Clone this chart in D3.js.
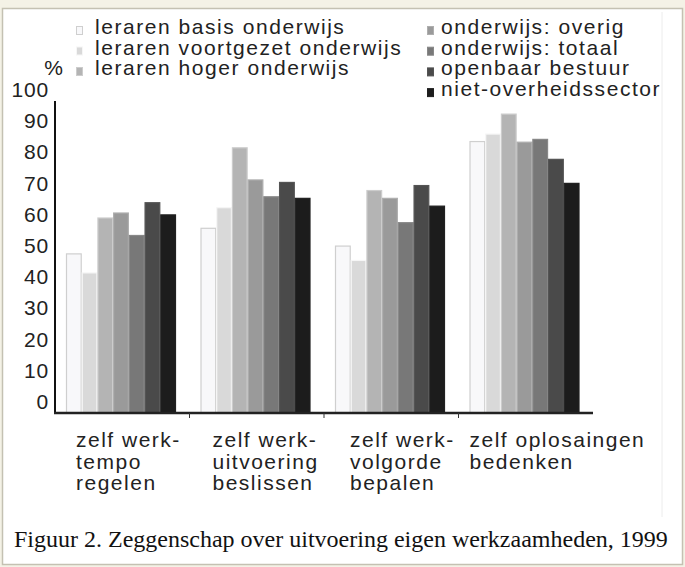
<!DOCTYPE html>
<html>
<head>
<meta charset="utf-8">
<script src="https://cdn.jsdelivr.net/npm/d3@7"></script>
<style>
  body { margin: 0; background: #f4f2e6; }
  svg { display: block; }
</style>
</head>
<body>
<svg id="chart" width="685" height="567"></svg>
<script>
// categories (x axis), each split into its printed lines
const categories = [
  ["zelf werk-", "tempo", "regelen"],
  ["zelf werk-", "uitvoering", "beslissen"],
  ["zelf werk-", "volgorde", "bepalen"],
  ["zelf oplosaingen", "bedenken"]
];

// series names (legend order)
const series = [
  "leraren basis onderwijs",
  "leraren voortgezet onderwijs",
  "leraren hoger onderwijs",
  "onderwijs: overig",
  "onderwijs: totaal",
  "openbaar bestuur",
  "niet-overheidssector"
];

// percentages per series, one value per category
const lerarenBasis     = [51.0, 59.2, 53.5, 87.0];
const lerarenVoortgez  = [44.9, 65.8, 48.9, 89.4];
const lerarenHoger     = [62.5, 85.0, 71.3, 95.8];
const onderwijsOverig  = [64.1, 74.7, 68.8, 86.8];
const onderwijsTotaal  = [56.9, 69.3, 61.0, 87.7];
const openbaarBestuur  = [67.4, 73.9, 72.9, 81.3];
const nietOverheid     = [63.5, 68.8, 66.3, 73.6];

const yTicks = [0, 10, 20, 30, 40, 50, 60, 70, 80, 90, 100];

// grey shades, light to dark
const colors = ["#f8f8fa", "#d9d9d9", "#b4b4b4", "#9a9a9a", "#787878", "#4a4a4a", "#1c1c1c"];

const values = [lerarenBasis, lerarenVoortgez, lerarenHoger, onderwijsOverig,
                onderwijsTotaal, openbaarBestuur, nietOverheid];

const svg = d3.select("#chart");
const font = "'Liberation Sans', Arial, sans-serif";

// frame around the figure
svg.append("rect")
  .attr("x", 2.5).attr("y", 8.5)
  .attr("width", 680).attr("height", 556)
  .attr("fill", "#ffffff")
  .attr("stroke", "#c4c1b2")
  .attr("stroke-width", 1.5);

// right edge of the chart picture
svg.append("line")
  .attr("x1", 662).attr("x2", 662)
  .attr("y1", 12).attr("y2", 517)
  .attr("stroke", "#ececec");

// scales
const x0 = d3.scaleBand().domain(d3.range(categories.length)).range([55, 593]);
const x1 = d3.scaleBand().domain(series).range([11, 121]);
const y = d3.scaleLinear().domain([0, 100]).range([413, 101]);

// bars
const groups = svg.append("g").selectAll("g")
  .data(categories)
  .join("g")
    .attr("transform", (d, i) => `translate(${x0(i)},0)`);

groups.selectAll("rect")
  .data((d, i) => series.map((s, j) => ({ s, j, v: values[j][i] })))
  .join("rect")
    .attr("x", d => x1(d.s) + 0.5)
    .attr("y", d => y(d.v))
    .attr("width", x1.bandwidth() - 1)
    .attr("height", d => y(0) - y(d.v))
    .attr("fill", d => colors[d.j])
    .attr("stroke", d => d.j == 0 ? "#cfcfcf" : d3.color(colors[d.j]).brighter(0.35))
    .attr("stroke-width", 1.2);

// y axis line
svg.append("line")
  .attr("x1", 55).attr("x2", 55)
  .attr("y1", y(100)).attr("y2", y(0))
  .attr("stroke", "#111").attr("stroke-width", 2);

// baseline and category ticks
svg.append("line")
  .attr("x1", 54).attr("x2", 593)
  .attr("y1", y(0)).attr("y2", y(0))
  .attr("stroke", "#222").attr("stroke-width", 2.5);

svg.append("g").selectAll("line")
  .data(d3.range(1, categories.length))
  .join("line")
    .attr("x1", i => x0(i)).attr("x2", i => x0(i))
    .attr("y1", y(0)).attr("y2", y(0) + 5)
    .attr("stroke", "#333").attr("stroke-width", 1);

// y tick labels (printed a bit above their gridline, as in the original)
svg.append("g").selectAll("text")
  .data(yTicks)
  .join("text")
    .attr("x", 49)
    .attr("y", d => y(d) - 4)
    .attr("text-anchor", "end")
    .attr("font-family", font)
    .attr("font-size", 21)
    .attr("letter-spacing", 0.8)
    .attr("fill", "#222")
    .text(d => d);

svg.append("text")
  .attr("x", 63).attr("y", 75)
  .attr("text-anchor", "end")
  .attr("font-family", font)
  .attr("font-size", 21)
  .attr("fill", "#222")
  .text("%");

// category labels
const labelOffset = [21, 23, 26, 11];
svg.append("g").selectAll("text")
  .data(categories)
  .join("text")
    .attr("x", (d, i) => x0(i) + labelOffset[i])
    .attr("y", 447)
    .attr("font-family", font)
    .attr("font-size", 21)
    .attr("letter-spacing", 1.5)
    .attr("fill", "#222")
    .each(function(lines) {
      const t = d3.select(this);
      const xx = t.attr("x");
      lines.forEach((l, k) => {
        t.append("tspan").attr("x", xx).attr("dy", k == 0 ? 0 : 21.5).text(l);
      });
    });

// legend, two columns
const legend = svg.append("g").selectAll("g")
  .data(series)
  .join("g")
    .attr("transform", (d, i) => i < 3
      ? `translate(76,${34 + i * 20.5})`
      : `translate(427,${34 + (i - 3) * 20.7})`);

legend.append("rect")
  .attr("x", 0.5).attr("y", -7.5)
  .attr("width", 6).attr("height", 8)
  .attr("fill", (d, i) => colors[i])
  .attr("stroke", (d, i) => i == 0 ? "#cfcfcf" : d3.color(colors[i]).brighter(0.35))
  .attr("stroke-width", 1);

legend.append("text")
  .attr("x", (d, i) => i < 3 ? 19 : 14)
  .attr("y", 0)
  .attr("font-family", font)
  .attr("font-size", 21)
  .attr("letter-spacing", 1.55)
  .attr("fill", "#222")
  .text(d => d);

// caption
svg.append("text")
  .attr("x", 14).attr("y", 547)
  .attr("font-family", "'Liberation Serif', 'Times New Roman', serif")
  .attr("font-size", 24)
  .attr("fill", "#111")
  .text("Figuur 2. Zeggenschap over uitvoering eigen werkzaamheden, 1999");
</script>
</body>
</html>
